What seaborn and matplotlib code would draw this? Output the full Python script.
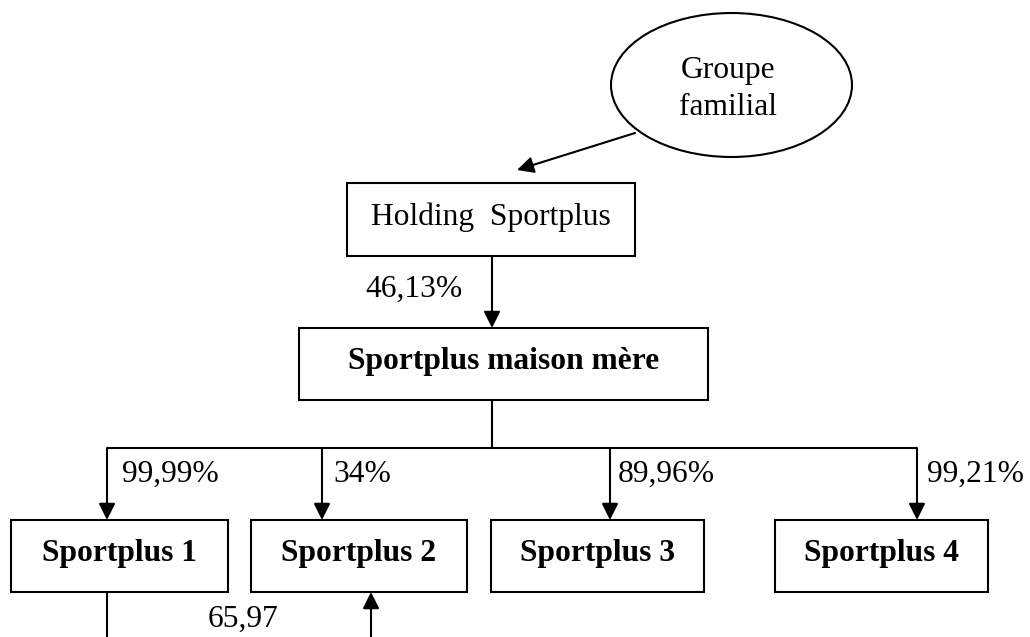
import matplotlib
matplotlib.use("Agg")
import matplotlib.pyplot as plt
from matplotlib.patches import Rectangle, Ellipse
import seaborn as sns

# ------------------------------
# Data: entities and ownership percentages
# ------------------------------
owner_label = "Groupe\nfamilial"
holding_label = "Holding  Sportplus"
parent_label = "Sportplus maison mère"
subsidiaries = ["Sportplus 1", "Sportplus 2", "Sportplus 3", "Sportplus 4"]
holding_share = "46,13%"
subsidiary_shares = ["99,99%", "34%", "89,96%", "99,21%"]
cross_share = "65,97"

# ------------------------------
# Layout (pixel coordinates, y down)
# ------------------------------
W, H = 1030, 637
ellipse_box = (731.5, 85, 241, 144)            # cx, cy, w, h
holding_box = (347, 183, 635, 256)             # x0, y0, x1, y1
parent_box = (299, 328, 708, 400)
sub_boxes = [(11, 520, 228, 592), (251, 520, 467, 592),
             (491, 520, 704, 592), (775, 520, 988, 592)]
sub_arrow_x = [107, 322, 610, 917]
share_x = [122, 333, 618, 927]
trunk_x = 492
bus_y = 448

sns.set_theme(style="white")
plt.rcParams["font.family"] = ["Liberation Serif", "DejaVu Serif"]
plt.rcParams["text.color"] = "black"
FS = 22.7
LW = 1.5

fig = plt.figure(figsize=(W / 100, H / 100), dpi=100)
ax = fig.add_axes([0, 0, 1, 1])
ax.set_xlim(0, W)
ax.set_ylim(H, 0)
ax.axis("off")


def box(b, label, bold=False):
    x0, y0, x1, y1 = b
    ax.add_patch(Rectangle((x0, y0), x1 - x0, y1 - y0, fill=False,
                           edgecolor="black", lw=LW))
    ax.text((x0 + x1) / 2, (y0 + y1) / 2 - 2, label, ha="center", va="center",
            fontsize=FS, fontweight="bold" if bold else "normal", color="black")


def arrow(start, tip):
    ax.annotate("", xy=tip, xytext=start,
                arrowprops=dict(arrowstyle="-|>", color="black", lw=LW,
                                mutation_scale=25, shrinkA=0, shrinkB=0))


def line(xs, ys):
    ax.plot(xs, ys, color="black", lw=LW, solid_capstyle="butt")


# owner ellipse
cx, cy, ew, eh = ellipse_box
ax.add_patch(Ellipse((cx, cy), ew, eh, fill=False, edgecolor="black", lw=LW))
ax.text(cx - 3, cy + 4, owner_label, ha="center", va="center", fontsize=FS,
        linespacing=1.32, color="black")
arrow((635, 133), (517, 170))

# holding and parent
box(holding_box, holding_label)
box(parent_box, parent_label, bold=True)
arrow((trunk_x, holding_box[3]), (trunk_x, parent_box[1]))
ax.text(365, 289, holding_share, ha="left", va="center", fontsize=FS,
        color="black")

# bus to subsidiaries
line([trunk_x, trunk_x], [parent_box[3], bus_y])
line([sub_arrow_x[0], sub_arrow_x[-1]], [bus_y, bus_y])
for b, name, ax_x, sx, share in zip(sub_boxes, subsidiaries, sub_arrow_x,
                                    share_x, subsidiary_shares):
    arrow((ax_x, bus_y), (ax_x, b[1]))
    box(b, name, bold=True)
    ax.text(sx, 474, share, ha="left", va="center", fontsize=FS, color="black")

# cross-holding from Sportplus 1 into Sportplus 2 (continues below the page)
line([sub_arrow_x[0], sub_arrow_x[0]], [sub_boxes[0][3], H + 5])
arrow((371, H + 5), (371, sub_boxes[1][3]))
ax.text(208, 619, cross_share, ha="left", va="center", fontsize=FS,
        color="black")

fig.savefig("out.png", dpi=100, facecolor="white")
